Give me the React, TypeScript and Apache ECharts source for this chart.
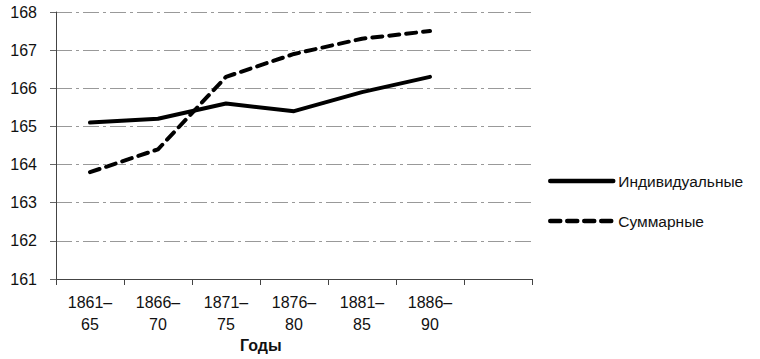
import React, { useEffect, useRef } from "react";
import * as echarts from "echarts";

const categories = ["1861–\n65", "1866–\n70", "1871–\n75", "1876–\n80", "1881–\n85", "1886–\n90", ""];
const individual = [165.1, 165.2, 165.6, 165.4, 165.9, 166.3, null];
const summary = [163.8, 164.4, 166.3, 166.9, 167.3, 167.5, null];
const seriesNames = ["Индивидуальные", "Суммарные"];
const xAxisTitle = "Годы";

const FONT = "'Liberation Sans', Arial, sans-serif";

export default function App() {
  const ref = useRef<HTMLDivElement>(null);
  useEffect(() => {
    if (!ref.current) return;
    const chart = echarts.init(ref.current, undefined, { renderer: "svg" });
    chart.setOption({
      animation: false,
      backgroundColor: "#ffffff",
      textStyle: { fontFamily: FONT },
      grid: { left: 56, right: 228, top: 12, bottom: 80, containLabel: false },
      legend: {
        orient: "vertical",
        left: 543,
        top: 168,
        itemWidth: 63,
        itemHeight: 10,
        itemGap: 24,
        itemStyle: { opacity: 0 },
        textStyle: { fontFamily: FONT, fontSize: 15.5, color: "#111" },
        data: [
          { name: seriesNames[0], lineStyle: { width: 4.5, color: "#000", type: "solid" } },
          { name: seriesNames[1], lineStyle: { width: 4.5, color: "#000", type: [10, 7] } },
        ],
      },
      xAxis: {
        type: "category",
        data: categories,
        boundaryGap: true,
        axisLine: { lineStyle: { color: "#444", width: 1 } },
        axisTick: { show: true, length: 6, lineStyle: { color: "#444" } },
        axisLabel: {
          interval: 0,
          margin: 12,
          fontSize: 16,
          lineHeight: 22,
          color: "#111",
          fontFamily: FONT,
        },
        splitLine: { show: false },
      },
      yAxis: {
        type: "value",
        min: 161,
        max: 168,
        interval: 1,
        axisLine: { show: true, lineStyle: { color: "#444", width: 1 } },
        axisTick: { show: true, length: 6, lineStyle: { color: "#666" } },
        axisLabel: { margin: 19, fontSize: 16, color: "#111", fontFamily: FONT },
        splitLine: { show: true, lineStyle: { color: "#999", width: 1, type: [16, 4, 3, 4] } },
      },
      graphic: [
        {
          type: "text",
          left: 240,
          top: 337,
          style: { text: xAxisTitle, font: `bold 16px ${FONT}`, fill: "#111" },
        },
      ],
      series: [
        {
          name: seriesNames[0],
          type: "line",
          data: individual,
          symbol: "none",
          lineStyle: { color: "#000", width: 4, cap: "round", join: "round" },
          itemStyle: { color: "#000" },
        },
        {
          name: seriesNames[1],
          type: "line",
          data: summary,
          symbol: "none",
          lineStyle: { color: "#000", width: 4, type: [10, 7], cap: "round", join: "round" },
          itemStyle: { color: "#000" },
        },
      ],
    });
    return () => chart.dispose();
  }, []);
  return (
    <div
      ref={ref}
      style={{ position: "fixed", left: 0, top: 0, width: 760, height: 359, background: "#fff" }}
    />
  );
}
